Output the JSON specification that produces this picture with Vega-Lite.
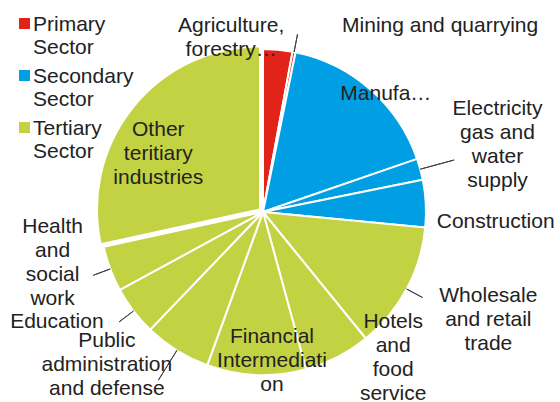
{
  "$schema": "https://vega.github.io/schema/vega-lite/v6.json",
  "width": 326,
  "height": 326,
  "autosize": {"type": "none"},
  "padding": {"left": 100, "top": 49, "right": 134, "bottom": 27},
  "background": "white",
  "config": {"view": {"stroke": null}, "text": {"font": "Liberation Sans"}},
  "data": {
    "values": [
      {"idx": 1, "sector": "Primary Sector", "label": "Agriculture,\nforestry…", "value": 2.9},
      {"idx": 2, "sector": "Primary Sector", "label": "Mining and quarrying", "value": 0.3},
      {"idx": 3, "sector": "Secondary Sector", "label": "Manufa…", "value": 16.5},
      {"idx": 4, "sector": "Secondary Sector", "label": "Electricity\ngas and\nwater\nsupply", "value": 2.1},
      {"idx": 5, "sector": "Secondary Sector", "label": "Construction", "value": 4.7},
      {"idx": 6, "sector": "Tertiary Sector", "label": "Wholesale\nand retail\ntrade", "value": 12.6},
      {"idx": 7, "sector": "Tertiary Sector", "label": "Hotels\nand\nfood\nservice", "value": 6.6},
      {"idx": 8, "sector": "Tertiary Sector", "label": "Financial\nIntermediati\non", "value": 9.8},
      {"idx": 9, "sector": "Tertiary Sector", "label": "Public\nadministration\nand defense", "value": 6.6},
      {"idx": 10, "sector": "Tertiary Sector", "label": "Education", "value": 4.9},
      {"idx": 11, "sector": "Tertiary Sector", "label": "Health\nand\nsocial\nwork", "value": 4.5},
      {"idx": 12, "sector": "Tertiary Sector", "label": "Other\nteritiary\nindustries", "value": 28.4}
    ]
  },
  "encoding": {
    "theta": {"field": "value", "type": "quantitative", "stack": true},
    "order": {"field": "idx", "type": "quantitative"}
  },
  "layer": [
    {
      "mark": {"type": "arc", "radius": 163, "stroke": "white", "strokeWidth": 2},
      "encoding": {
        "color": {
          "field": "sector", "type": "nominal",
          "scale": {"domain": ["Primary Sector", "Secondary Sector", "Tertiary Sector"], "range": ["#E2231A", "#009FE3", "#C3D242"]},
          "legend": {
            "orient": "none", "legendX": -86, "legendY": -29, "title": null,
            "symbolType": "M-1,-2.27H1V-0.27H-1Z", "symbolSize": 121, "symbolStrokeWidth": 0,
            "labelFontSize": 21, "labelFont": "Liberation Sans", "labelColor": "#222",
            "labelExpr": "split(datum.label, ' ')", "labelBaseline": "alphabetic",
            "labelLimit": 0, "labelOffset": -2, "rowPadding": 7
          }
        },
        "opacity": {"condition": {"test": "datum.idx == 12", "value": 0}, "value": 1}
      }
    },
    {
      "mark": {"type": "arc", "radius": 163, "stroke": "white", "strokeWidth": 2, "xOffset": -3, "yOffset": -2.5},
      "encoding": {
        "color": {"field": "sector", "type": "nominal", "legend": null},
        "opacity": {"condition": {"test": "datum.idx == 12", "value": 1}, "value": 0}
      }
    },
    {
      "mark": {"type": "arc", "radius": 181, "radius2": 163, "padAngle": 3, "stroke": "#404040", "strokeWidth": 1, "fillOpacity": 0},
      "encoding": {
        "strokeOpacity": {"condition": {"test": "indexof([2,6,10,11], datum.idx) >= 0", "value": 1}, "value": 0}
      }
    },
    {
      "mark": {"type": "arc", "radius": 198, "radius2": 163, "padAngle": 3, "stroke": "#404040", "strokeWidth": 1, "fillOpacity": 0},
      "encoding": {
        "strokeOpacity": {"condition": {"test": "indexof([4,9], datum.idx) >= 0", "value": 1}, "value": 0}
      }
    },
    {"mark": {"type": "text", "radius": 177, "dx": -48, "dy": -10, "fontSize": 21, "lineBreak": "\n", "lineHeight": 24, "color": "#222"},
     "encoding": {"text": {"condition": {"test": "datum.idx == 1", "field": "label"}, "value": ""}}},
    {"mark": {"type": "text", "radius": 200, "dx": 139, "dy": 10, "fontSize": 21, "lineBreak": "\n", "lineHeight": 24, "color": "#222"},
     "encoding": {"text": {"condition": {"test": "datum.idx == 2", "field": "label"}, "value": ""}}},
    {"mark": {"type": "text", "radius": 168, "dx": 12, "dy": 8, "fontSize": 21, "lineBreak": "\n", "lineHeight": 24, "color": "#222"},
     "encoding": {"text": {"condition": {"test": "datum.idx == 3", "field": "label"}, "value": ""}}},
    {"mark": {"type": "text", "radius": 243, "dx": 0, "dy": -39, "fontSize": 21, "lineBreak": "\n", "lineHeight": 24, "color": "#222"},
     "encoding": {"text": {"condition": {"test": "datum.idx == 4", "field": "label"}, "value": ""}}},
    {"mark": {"type": "text", "radius": 233, "dx": 0, "dy": 22, "fontSize": 21, "lineBreak": "\n", "lineHeight": 24, "color": "#222"},
     "encoding": {"text": {"condition": {"test": "datum.idx == 5", "field": "label"}, "value": ""}}},
    {"mark": {"type": "text", "radius": 250, "dx": 5, "dy": -34, "fontSize": 21, "lineBreak": "\n", "lineHeight": 24, "color": "#222"},
     "encoding": {"text": {"condition": {"test": "datum.idx == 6", "field": "label"}, "value": ""}}},
    {"mark": {"type": "text", "radius": 195, "dx": 41, "dy": -63, "fontSize": 21, "lineBreak": "\n", "lineHeight": 24, "color": "#222"},
     "encoding": {"text": {"condition": {"test": "datum.idx == 7", "field": "label"}, "value": ""}}},
    {"mark": {"type": "text", "radius": 148, "dx": 15, "dy": -23, "fontSize": 21, "lineBreak": "\n", "lineHeight": 24, "color": "#222"},
     "encoding": {"text": {"condition": {"test": "datum.idx == 8", "field": "label"}, "value": ""}}},
    {"mark": {"type": "text", "radius": 218, "dx": -41, "dy": -56, "fontSize": 21, "lineBreak": "\n", "lineHeight": 24, "color": "#222"},
     "encoding": {"text": {"condition": {"test": "datum.idx == 9", "field": "label"}, "value": ""}}},
    {"mark": {"type": "text", "radius": 233, "dx": -21, "dy": -31, "fontSize": 21, "lineBreak": "\n", "lineHeight": 24, "color": "#222"},
     "encoding": {"text": {"condition": {"test": "datum.idx == 10", "field": "label"}, "value": ""}}},
    {"mark": {"type": "text", "radius": 216, "dx": -8, "dy": -60, "fontSize": 21, "lineBreak": "\n", "lineHeight": 24, "color": "#222"},
     "encoding": {"text": {"condition": {"test": "datum.idx == 11", "field": "label"}, "value": ""}}},
    {"mark": {"type": "text", "radius": 119, "dx": -12, "dy": -7, "fontSize": 21, "lineBreak": "\n", "lineHeight": 24, "color": "#222"},
     "encoding": {"text": {"condition": {"test": "datum.idx == 12", "field": "label"}, "value": ""}}}
  ]
}
